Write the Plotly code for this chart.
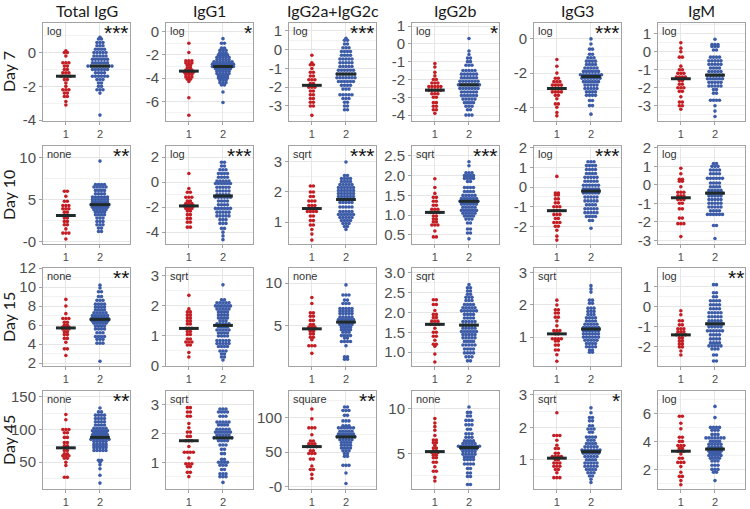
import numpy as np
import plotly.graph_objects as go

W, H = 750, 509

RED = "#c41e24"
BLUE = "#3d5ca8"
BAR = "#1f2a2a"
GRID = "#e6e6e6"
GRID_MINOR = "#f2f2f2"
BORDER = "#a3a3a3"
TICK_TXT = "#4d4d4d"

ANTIBODIES = ["Total IgG", "IgG1", "IgG2a+IgG2c", "IgG2b", "IgG3", "IgM"]
DAYS = ["Day 7", "Day 10", "Day 15", "Day 45"]

TRANSFORM = [
    ["log", "log", "log", "log", "log", "log"],
    ["none", "log", "sqrt", "sqrt", "log", "log"],
    ["none", "sqrt", "none", "sqrt", "sqrt", "log"],
    ["none", "sqrt", "square", "none", "sqrt", "log"],
]
STARS = [
    ["***", "*", "***", "*", "***", ""],
    ["**", "***", "***", "***", "***", ""],
    ["**", "", "", "", "", "**"],
    ["**", "", "**", "", "*", ""],
]

# y axis ranges and tick steps
Y_RANGE = [
    [[-4.05, 1.75], [-7.7, 0.75], [-3.8, 1.42], [-4.33, 1.17], [-4.8, 0.93], [-3.85, 1.6]],
    [[-0.3, 11.4], [-4.95, 2.9], [0.27, 3.53], [0.27, 2.75], [-2.9, 2.1], [-3.2, 2.1]],
    [[1.7, 12.0], [0.0, 3.26], [0.2, 11.8], [0.65, 3.12], [0.1, 3.15], [-2.95, 1.93]],
    [[9, 159], [0.07, 3.48], [-3, 138], [1, 12], [0.1, 3.12], [0.6, 7.6]],
]
Y_DTICK = [
    [2, 2, 1, 1, 2, 1],
    [5, 2, 1, 0.5, 1, 1],
    [2, 1, 5, 0.5, 1, 1],
    [50, 1, 50, 5, 1, 2],
]

# (value, number of animals at that value) for group 1 and group 2
d7_total_1 = [(0.1, 1), (0.0, 2), (-0.2, 1), (-0.6, 3), (-0.8, 2), (-1.0, 2), (-1.2, 3), (-1.4, 4), (-1.6, 2), (-1.8, 1), (-2.0, 1), (-2.2, 3), (-2.4, 2), (-2.6, 2), (-2.9, 1), (-3.1, 1)]
d7_total_2 = [(0.9, 1), (0.8, 2), (0.6, 3), (0.4, 3), (0.2, 4), (0.0, 5), (-0.2, 5), (-0.4, 6), (-0.6, 6), (-0.8, 9), (-1.0, 6), (-1.2, 4), (-1.4, 6), (-1.6, 3), (-1.8, 2), (-2.0, 2), (-2.2, 3), (-2.4, 1), (-3.7, 1)]
d7_igg1_1 = [(-1.0, 1), (-1.8, 1), (-2.5, 3), (-2.7, 3), (-2.9, 2), (-3.1, 2), (-3.3, 3), (-3.5, 4), (-3.7, 3), (-3.9, 3), (-4.1, 2), (-4.3, 1), (-5.7, 1), (-7.2, 1)]
d7_igg1_2 = [(-0.6, 1), (-1.0, 2), (-1.4, 2), (-1.6, 3), (-1.8, 3), (-2.0, 4), (-2.2, 5), (-2.4, 5), (-2.6, 7), (-2.8, 8), (-3.0, 8), (-3.2, 6), (-3.4, 5), (-3.6, 5), (-3.8, 4), (-4.0, 4), (-4.2, 3), (-4.4, 3), (-4.6, 2), (-5.2, 1), (-6.1, 1)]
d7_igg2a_1 = [(-0.3, 1), (-0.7, 1), (-0.8, 2), (-1.0, 1), (-1.2, 2), (-1.4, 2), (-1.6, 3), (-1.8, 2), (-2.0, 3), (-2.2, 2), (-2.4, 2), (-2.6, 2), (-2.8, 2), (-3.0, 2), (-3.5, 1)]
d7_igg2a_2 = [(0.6, 1), (0.5, 2), (0.3, 2), (0.1, 3), (-0.1, 4), (-0.3, 4), (-0.5, 5), (-0.7, 5), (-0.9, 5), (-1.1, 6), (-1.3, 7), (-1.5, 7), (-1.7, 6), (-1.9, 4), (-2.1, 3), (-2.4, 5), (-2.6, 3), (-2.8, 2), (-3.0, 2), (-3.2, 2)]
d7_igg2b_1 = [(-1.1, 1), (-1.3, 1), (-1.6, 1), (-1.8, 1), (-2.0, 2), (-2.2, 3), (-2.4, 5), (-2.6, 5), (-2.8, 3), (-3.0, 2), (-3.3, 2), (-3.5, 2), (-3.7, 2), (-3.9, 1)]
d7_igg2b_2 = [(0.3, 1), (-0.4, 1), (-0.6, 1), (-0.8, 2), (-1.0, 2), (-1.2, 3), (-1.5, 5), (-1.7, 6), (-1.9, 6), (-2.1, 7), (-2.3, 8), (-2.5, 7), (-2.7, 6), (-2.9, 6), (-3.1, 5), (-3.3, 4), (-3.5, 3), (-3.7, 2), (-4.0, 3)]
d7_igg3_1 = [(-1.2, 1), (-1.6, 1), (-2.0, 1), (-2.3, 2), (-2.5, 3), (-2.7, 4), (-2.9, 5), (-3.1, 4), (-3.3, 2), (-3.5, 1), (-3.8, 2), (-4.0, 1), (-4.3, 1), (-4.5, 1)]
d7_igg3_2 = [(0.0, 1), (-0.3, 1), (-0.6, 2), (-0.9, 2), (-1.1, 3), (-1.3, 4), (-1.5, 4), (-1.7, 5), (-1.9, 6), (-2.1, 8), (-2.3, 7), (-2.5, 6), (-2.7, 5), (-2.9, 5), (-3.1, 4), (-3.3, 4), (-3.6, 2), (-3.9, 2), (-4.4, 1)]
d7_igm_1 = [(0.5, 1), (0.2, 1), (0.0, 1), (-0.3, 2), (-0.8, 1), (-1.0, 2), (-1.2, 3), (-1.4, 4), (-1.6, 2), (-1.8, 2), (-2.0, 3), (-2.2, 2), (-2.5, 1), (-2.8, 2), (-3.0, 2), (-3.2, 1)]
d7_igm_2 = [(0.7, 1), (0.4, 3), (0.3, 3), (0.1, 2), (-0.3, 4), (-0.5, 5), (-0.7, 5), (-0.9, 4), (-1.1, 5), (-1.3, 6), (-1.5, 6), (-1.7, 5), (-1.9, 5), (-2.1, 2), (-2.3, 2), (-2.7, 4), (-3.0, 1), (-3.3, 1), (-3.6, 1)]

d10_total_1 = [(6.0, 2), (5.4, 1), (4.8, 2), (4.3, 3), (3.9, 3), (3.5, 2), (3.1, 3), (2.8, 2), (2.4, 2), (2.0, 2), (1.5, 1), (1.0, 3), (0.3, 1)]
d10_total_2 = [(9.6, 1), (6.8, 4), (6.5, 5), (6.1, 4), (5.7, 4), (5.3, 6), (5.0, 6), (4.7, 6), (4.4, 7), (4.1, 6), (3.8, 5), (3.5, 4), (3.2, 4), (2.8, 3), (2.4, 3), (2.0, 3), (1.6, 2), (1.2, 2)]
d10_igg1_1 = [(0.7, 1), (-0.5, 1), (-0.8, 2), (-1.2, 3), (-1.5, 2), (-1.7, 3), (-1.9, 4), (-2.1, 3), (-2.3, 2), (-2.6, 2), (-2.9, 2), (-3.2, 2), (-3.6, 2)]
d10_igg1_2 = [(1.6, 2), (1.3, 2), (1.0, 3), (0.7, 4), (0.4, 4), (0.1, 5), (-0.1, 6), (-0.4, 5), (-0.7, 5), (-1.0, 5), (-1.2, 6), (-1.5, 4), (-1.8, 4), (-2.1, 6), (-2.4, 5), (-2.7, 5), (-3.0, 3), (-3.3, 3), (-3.7, 2), (-4.0, 1), (-4.3, 1), (-4.6, 1)]
d10_igg2a_1 = [(2.2, 2), (2.0, 2), (1.85, 2), (1.7, 3), (1.55, 3), (1.45, 3), (1.35, 4), (1.2, 2), (1.05, 2), (0.9, 2), (0.75, 1), (0.6, 1), (0.4, 1)]
d10_igg2a_2 = [(3.0, 1), (2.55, 2), (2.45, 4), (2.35, 4), (2.25, 5), (2.15, 6), (2.05, 6), (1.95, 6), (1.85, 6), (1.75, 6), (1.65, 5), (1.5, 5), (1.35, 5), (1.25, 6), (1.15, 5), (1.05, 4), (0.95, 3), (0.85, 2), (0.75, 1)]
d10_igg2b_1 = [(1.92, 1), (1.7, 1), (1.55, 1), (1.45, 2), (1.35, 2), (1.25, 2), (1.15, 3), (1.07, 4), (0.98, 2), (0.9, 2), (0.83, 2), (0.75, 3), (0.6, 1), (0.45, 2)]
d10_igg2b_2 = [(2.35, 1), (2.25, 1), (2.07, 3), (2.0, 4), (1.93, 4), (1.85, 2), (1.7, 4), (1.6, 4), (1.5, 5), (1.42, 6), (1.35, 7), (1.28, 6), (1.2, 5), (1.12, 6), (1.05, 5), (0.98, 4), (0.9, 3), (0.8, 2), (0.65, 2), (0.55, 2), (0.4, 1)]
d10_igg3_1 = [(0.55, 1), (-0.3, 2), (-0.4, 2), (-0.6, 2), (-0.8, 2), (-1.0, 3), (-1.2, 3), (-1.4, 3), (-1.6, 2), (-1.8, 3), (-2.0, 2), (-2.2, 1), (-2.5, 1), (-2.7, 1)]
d10_igg3_2 = [(1.3, 3), (1.1, 4), (0.9, 4), (0.7, 4), (0.5, 5), (0.3, 5), (0.1, 6), (-0.1, 6), (-0.3, 6), (-0.5, 5), (-0.7, 5), (-0.9, 4), (-1.1, 5), (-1.3, 5), (-1.5, 4), (-1.7, 2), (-2.1, 1)]
d10_igm_1 = [(0.9, 1), (0.6, 1), (0.3, 2), (0.2, 2), (-0.1, 1), (-0.4, 3), (-0.6, 3), (-0.8, 3), (-1.0, 2), (-1.3, 2), (-1.8, 2), (-2.1, 3), (-2.8, 1)]
d10_igm_2 = [(1.15, 2), (1.0, 3), (0.8, 4), (0.6, 4), (0.35, 6), (0.1, 4), (-0.1, 4), (-0.3, 5), (-0.45, 6), (-0.6, 5), (-0.8, 5), (-1.0, 5), (-1.2, 5), (-1.4, 4), (-1.6, 6), (-2.2, 2), (-2.9, 1)]

d15_total_1 = [(8.7, 1), (8.0, 1), (7.2, 1), (6.7, 3), (6.3, 2), (6.0, 2), (5.8, 3), (5.6, 3), (5.3, 2), (5.0, 2), (4.6, 2), (4.2, 1), (3.5, 2), (2.8, 1)]
d15_total_2 = [(10.2, 1), (9.9, 1), (9.5, 2), (9.0, 2), (8.6, 3), (8.2, 4), (7.9, 4), (7.6, 4), (7.3, 5), (7.0, 6), (6.8, 6), (6.6, 7), (6.4, 6), (6.2, 5), (5.9, 4), (5.6, 4), (5.2, 3), (4.8, 4), (4.5, 3), (4.1, 3), (2.2, 1)]
d15_igg1_1 = [(2.35, 1), (1.9, 1), (1.8, 2), (1.7, 2), (1.6, 2), (1.5, 2), (1.4, 2), (1.25, 3), (1.15, 2), (1.05, 2), (0.9, 2), (0.8, 3), (0.7, 2), (0.45, 1), (0.3, 1)]
d15_igg1_2 = [(2.7, 1), (2.2, 2), (2.1, 5), (2.0, 6), (1.9, 5), (1.8, 4), (1.7, 4), (1.6, 4), (1.5, 3), (1.4, 5), (1.3, 4), (1.2, 5), (1.1, 4), (1.0, 4), (0.85, 5), (0.75, 5), (0.65, 4), (0.5, 3), (0.4, 2), (0.3, 2), (0.2, 1)]
d15_igg2a_1 = [(8.3, 1), (7.6, 1), (6.5, 2), (6.1, 2), (5.6, 2), (5.1, 2), (4.8, 3), (4.6, 3), (4.3, 2), (4.0, 2), (3.6, 2), (3.3, 1), (2.6, 3), (1.7, 1)]
d15_igg2a_2 = [(9.8, 1), (8.6, 3), (8.0, 2), (7.6, 3), (7.0, 5), (6.7, 5), (6.4, 5), (6.0, 5), (5.7, 6), (5.4, 6), (5.1, 5), (4.8, 4), (4.5, 4), (4.2, 3), (3.8, 4), (3.5, 2), (3.1, 4), (2.6, 1), (1.3, 2), (1.0, 2)]
d15_igg2b_1 = [(2.32, 2), (2.2, 2), (2.05, 1), (1.95, 2), (1.87, 2), (1.78, 3), (1.7, 4), (1.6, 1), (1.5, 2), (1.4, 2), (1.3, 1), (1.2, 2), (1.15, 1), (0.95, 1), (0.75, 1)]
d15_igg2b_2 = [(2.7, 1), (2.62, 2), (2.54, 2), (2.46, 2), (2.38, 3), (2.3, 3), (2.2, 4), (2.12, 5), (2.04, 6), (1.95, 4), (1.86, 4), (1.77, 5), (1.68, 5), (1.6, 5), (1.52, 6), (1.44, 5), (1.36, 5), (1.27, 4), (1.18, 5), (1.08, 4), (0.98, 4), (0.88, 3), (0.78, 2)]
d15_igg3_1 = [(2.15, 1), (2.0, 1), (1.85, 2), (1.75, 2), (1.62, 2), (1.5, 1), (1.35, 1), (1.2, 3), (1.1, 2), (0.95, 4), (0.88, 2), (0.75, 2), (0.6, 2), (0.45, 1), (0.25, 1)]
d15_igg3_2 = [(2.6, 1), (2.5, 1), (2.4, 1), (2.15, 2), (2.05, 2), (1.9, 3), (1.8, 3), (1.7, 3), (1.6, 4), (1.5, 4), (1.4, 5), (1.3, 6), (1.2, 6), (1.1, 6), (1.0, 6), (0.9, 5), (0.8, 4), (0.7, 4), (0.6, 2), (0.53, 2)]
d15_igm_1 = [(-0.2, 1), (-0.4, 1), (-0.7, 2), (-0.9, 2), (-1.1, 3), (-1.25, 3), (-1.4, 4), (-1.55, 2), (-1.7, 2), (-1.85, 2), (-2.0, 2), (-2.2, 1), (-2.4, 1)]
d15_igm_2 = [(1.1, 2), (0.7, 2), (0.5, 2), (0.3, 4), (0.1, 4), (-0.1, 4), (-0.3, 5), (-0.5, 5), (-0.7, 5), (-0.85, 6), (-1.0, 5), (-1.2, 6), (-1.4, 4), (-1.6, 4), (-1.8, 4), (-1.95, 5), (-2.1, 3), (-2.4, 2), (-2.7, 2)]

d45_total_1 = [(123, 1), (115, 1), (100, 3), (95, 2), (88, 2), (80, 2), (75, 2), (72, 2), (68, 2), (63, 2), (60, 3), (56, 2), (50, 1), (45, 1), (27, 2)]
d45_total_2 = [(133, 1), (127, 2), (122, 4), (117, 4), (112, 4), (107, 4), (102, 5), (98, 6), (95, 5), (92, 6), (88, 6), (85, 7), (82, 5), (78, 5), (75, 5), (72, 5), (68, 5), (53, 2), (50, 1), (46, 1), (40, 1), (30, 1), (18, 1)]
d45_igg1_1 = [(2.9, 2), (2.75, 2), (2.6, 2), (2.35, 1), (2.2, 1), (2.05, 2), (1.9, 2), (1.75, 3), (1.55, 1), (1.35, 4), (1.15, 1), (0.95, 3), (0.85, 2), (0.65, 2), (0.5, 1)]
d45_igg1_2 = [(2.85, 3), (2.75, 4), (2.6, 3), (2.4, 5), (2.3, 4), (2.15, 5), (2.05, 6), (1.95, 5), (1.85, 7), (1.75, 4), (1.6, 3), (1.45, 2), (1.3, 2), (1.1, 2), (1.0, 4), (0.9, 3), (0.75, 2), (0.6, 3), (0.5, 3), (0.3, 1)]
d45_igg2a_1 = [(112, 1), (98, 1), (85, 3), (75, 1), (66, 2), (62, 3), (58, 4), (52, 2), (48, 3), (40, 2), (30, 1), (25, 2), (18, 1), (12, 1)]
d45_igg2a_2 = [(115, 2), (110, 3), (103, 2), (95, 3), (88, 3), (85, 6), (80, 5), (76, 6), (72, 7), (68, 5), (64, 4), (60, 4), (56, 4), (52, 3), (48, 2), (44, 2), (31, 3), (20, 1), (5, 1)]
d45_igg2b_1 = [(8.9, 1), (8.4, 1), (8.0, 1), (7.6, 1), (7.0, 1), (6.5, 2), (6.2, 2), (5.9, 1), (5.6, 2), (5.3, 2), (5.1, 3), (4.8, 2), (4.5, 2), (4.0, 2), (3.5, 1), (3.0, 2), (2.3, 1), (1.9, 1)]
d45_igg2b_2 = [(10.2, 1), (9.6, 2), (9.2, 2), (8.7, 3), (8.2, 3), (7.7, 2), (7.2, 3), (6.8, 3), (6.4, 4), (6.1, 5), (5.8, 8), (5.5, 6), (5.2, 5), (4.9, 5), (4.6, 4), (4.3, 4), (3.8, 4), (3.3, 2), (2.8, 2), (2.4, 2), (1.5, 2)]
d45_igg3_1 = [(2.45, 1), (1.75, 3), (1.6, 1), (1.45, 1), (1.35, 2), (1.2, 2), (1.1, 4), (1.0, 2), (0.9, 3), (0.8, 3), (0.7, 2), (0.6, 1), (0.45, 3)]
d45_igg3_2 = [(2.6, 1), (2.45, 1), (2.3, 2), (2.2, 2), (2.05, 2), (1.95, 3), (1.85, 2), (1.7, 4), (1.6, 3), (1.5, 4), (1.4, 5), (1.3, 7), (1.2, 6), (1.1, 5), (1.0, 4), (0.9, 5), (0.8, 5), (0.7, 4), (0.6, 3), (0.5, 2), (0.4, 1), (0.3, 1)]
d45_igm_1 = [(5.8, 2), (5.3, 1), (4.9, 1), (4.3, 2), (4.0, 2), (3.7, 3), (3.5, 2), (3.3, 3), (3.1, 1), (2.8, 2), (2.5, 3), (2.2, 1), (1.8, 1), (1.5, 2), (1.2, 1), (0.9, 1)]
d45_igm_2 = [(6.5, 1), (5.7, 1), (5.0, 4), (4.8, 3), (4.5, 3), (4.25, 7), (4.0, 4), (3.8, 5), (3.6, 5), (3.45, 6), (3.3, 5), (3.15, 4), (3.0, 5), (2.8, 4), (2.6, 3), (2.3, 3), (2.0, 3), (1.8, 2), (1.2, 1)]

PANELS = [
    [(d7_total_1, d7_total_2), (d7_igg1_1, d7_igg1_2), (d7_igg2a_1, d7_igg2a_2),
     (d7_igg2b_1, d7_igg2b_2), (d7_igg3_1, d7_igg3_2), (d7_igm_1, d7_igm_2)],
    [(d10_total_1, d10_total_2), (d10_igg1_1, d10_igg1_2), (d10_igg2a_1, d10_igg2a_2),
     (d10_igg2b_1, d10_igg2b_2), (d10_igg3_1, d10_igg3_2), (d10_igm_1, d10_igm_2)],
    [(d15_total_1, d15_total_2), (d15_igg1_1, d15_igg1_2), (d15_igg2a_1, d15_igg2a_2),
     (d15_igg2b_1, d15_igg2b_2), (d15_igg3_1, d15_igg3_2), (d15_igm_1, d15_igm_2)],
    [(d45_total_1, d45_total_2), (d45_igg1_1, d45_igg1_2), (d45_igg2a_1, d45_igg2a_2),
     (d45_igg2b_1, d45_igg2b_2), (d45_igg3_1, d45_igg3_2), (d45_igm_1, d45_igm_2)],
]

# panel geometry in pixels
COL_LEFT = [43, 166, 289, 412, 534, 658]
ROW_TOP = [23, 146, 268, 391]
PW, PH = 87, 98
DX = 0.088  # horizontal step between dots in one swarm row


def px_x(x):
    return x / W


def px_y(y):
    return 1 - y / H


def swarm(bins, g):
    xs, ys = [], []
    for v, n in bins:
        for k in range(n):
            xs.append(g + (k - (n - 1) / 2) * DX)
            ys.append(v)
    return xs, ys


def fmt(v, step):
    if step < 1:
        return f"{v:.1f}"
    return f"{v:g}"


fig = go.Figure()
layout = {}
annotations = []

for r in range(4):
    for c in range(6):
        i = r * 6 + c + 1
        sfx = "" if i == 1 else str(i)
        xa, ya = "x" + sfx, "y" + sfx
        for g, color, bins in ((1, RED, PANELS[r][c][0]), (2, BLUE, PANELS[r][c][1])):
            xs, ys = swarm(bins, g)
            fig.add_trace(go.Scatter(
                x=xs, y=ys, mode="markers", xaxis=xa, yaxis=ya,
                marker=dict(size=3.6, color=color, line=dict(width=0)),
                showlegend=False, hoverinfo="skip"))
            med = float(np.median(ys))
            fig.add_trace(go.Scatter(
                x=[g - 0.29, g + 0.29], y=[med, med], mode="lines", xaxis=xa, yaxis=ya,
                line=dict(color=BAR, width=3), showlegend=False, hoverinfo="skip"))

        lo, hi = Y_RANGE[r][c]
        step = Y_DTICK[r][c]
        major = np.arange(np.ceil(lo / step) * step, hi + 1e-9, step)
        minor = np.arange(np.floor(lo / step) * step + step / 2, hi, step)
        minor = [m for m in minor if lo < m < hi]

        layout["xaxis" + sfx] = dict(
            domain=[px_x(COL_LEFT[c]), px_x(COL_LEFT[c] + PW)], anchor=ya,
            range=[0.33, 2.88], automargin=False,
            tickmode="array", tickvals=[1, 2], ticktext=["1", "2"],
            showgrid=True, gridcolor=GRID, gridwidth=1, zeroline=False,
            showline=True, mirror=True, linecolor=BORDER, linewidth=1,
            ticks="outside", ticklen=3, tickcolor=BORDER,
            tickfont=dict(size=11, color=TICK_TXT, family="Liberation Sans"),
            fixedrange=True)
        layout["yaxis" + sfx] = dict(
            domain=[px_y(ROW_TOP[r] + PH), px_y(ROW_TOP[r])], anchor=xa,
            range=[lo, hi], automargin=False,
            tickmode="array", tickvals=list(major),
            ticktext=[fmt(v, step) for v in major],
            showgrid=True, gridcolor=GRID, gridwidth=1, zeroline=False,
            minor=dict(tickmode="array", tickvals=minor, showgrid=True,
                       gridcolor=GRID_MINOR, gridwidth=1, ticks=""),
            showline=True, mirror=True, linecolor=BORDER, linewidth=1,
            ticks="outside", ticklen=3, tickcolor=BORDER,
            tickfont=dict(size=15, color=TICK_TXT, family="Liberation Sans"),
            fixedrange=True)

        annotations.append(dict(
            text=TRANSFORM[r][c], xref=xa + " domain", yref=ya + " domain",
            x=0.02, y=1.0, xanchor="left", yanchor="top", showarrow=False,
            font=dict(size=11, color="#333333", family="Liberation Sans")))
        if STARS[r][c]:
            annotations.append(dict(
                text=STARS[r][c], xref=xa + " domain", yref=ya + " domain",
                x=1.0, y=1.0, xanchor="right", yanchor="top", showarrow=False,
                yshift=4, xshift=1,
                font=dict(size=21, color="#111111", family="Liberation Sans")))

for c, name in enumerate(ANTIBODIES):
    annotations.append(dict(
        text=name, xref="paper", yref="paper",
        x=px_x(COL_LEFT[c] + PW / 2), y=px_y(11),
        xanchor="center", yanchor="middle", showarrow=False,
        font=dict(size=16, color="#1a1a1a", family="Lato")))

for r, name in enumerate(DAYS):
    annotations.append(dict(
        text=name, xref="paper", yref="paper",
        x=px_x(8), y=px_y(ROW_TOP[r] + PH / 2),
        xanchor="center", yanchor="middle", textangle=-90, showarrow=False,
        font=dict(size=16, color="#1a1a1a", family="Lato")))

fig.update_layout(
    width=W, height=H,
    margin=dict(l=0, r=0, t=0, b=0),
    paper_bgcolor="white", plot_bgcolor="white",
    annotations=annotations,
    **layout,
)

# drop the browser's default page margin so the figure sits at the window corner
fig.write_html("out.html", config={"displayModeBar": False},
               post_script="document.body.style.margin = '0px';")
